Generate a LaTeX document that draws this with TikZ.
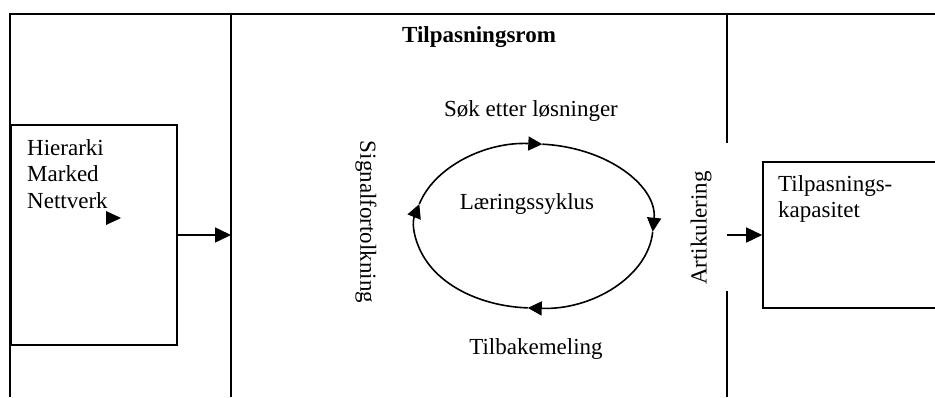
\documentclass[tikz,border=0pt]{standalone}
\usepackage{fontspec}
\setmainfont{Liberation Serif}
\usetikzlibrary{arrows.meta}

\tikzset{
  boks/.style = {draw, line width=1.6pt, inner sep=0pt},
  pil/.style = {line width=1.6pt, -{Triangle[length=16pt, width=15pt]}},
  sykluspil/.style = {line width=1.6pt, -{Triangle[length=14pt, width=14pt]}}
}

\begin{document}
\begin{tikzpicture}[x=1pt, y=1pt, font=\fontsize{23}{26.5}\selectfont]
            \useasboundingbox (0,0) rectangle (935,397);

            % ramme
            \draw [line width=1.6pt]
            (10,0) -- (10,383) -- (940,383);
            \draw [line width=1.6pt] (231,383) -- (231,0);
            \draw [line width=1.6pt] (727,383) -- (727,254);
            \draw [line width=1.6pt] (727,106) -- (727,0);

            % bokser
            \node [boks, minimum width=166pt, minimum height=220pt] (marked) at (94,162) {};
            \node [boks, minimum width=177pt, minimum height=146pt] (kapasitet) at (851.5,162) {};
            \coordinate (rominn) at (231,162);
            \coordinate (romut) at (727,162);
            \draw [pil] (marked.east) -- (rominn);
            \draw [pil] (romut) -- (kapasitet.west);

            \node [anchor=base west, align=left, inner sep=0pt] (styring) at (27,189)
            {Hierarki\\Marked\\Nettverk};
            \fill (106,186) -- (121,179) -- (106,172) -- cycle;
            \node [anchor=base west, align=left, inner sep=0pt] (kaptekst) at (778,179)
            {Tilpasnings-\\kapasitet};

            % syklus
            \coordinate (syklus) at (534,171);
            \draw [sykluspil] ([shift={(164.5:119pt and 82pt)}]syklus)
            arc [start angle=164.5, end angle=86, x radius=119pt, y radius=82pt];
            \draw [sykluspil] ([shift={(86:119pt and 82pt)}]syklus)
            arc [start angle=86, end angle=-4, x radius=119pt, y radius=82pt];
            \draw [sykluspil] ([shift={(-4:119pt and 82pt)}]syklus)
            arc [start angle=-4, end angle=-93, x radius=119pt, y radius=82pt];
            \draw [sykluspil] ([shift={(-93:119pt and 82pt)}]syklus)
            arc [start angle=-93, end angle=-195.5, x radius=119pt, y radius=82pt];

            % tekster
            \node [anchor=base] (tittel) at (479,354) {\bfseries Tilpasningsrom};
            \node [anchor=base] (sok) at (531,280) {Søk etter løsninger};
            \node [anchor=base] (laering) at (527,188) {Læringssyklus};
            \node [anchor=base] (tilbake) at (536,43) {Tilbakemeling};
            \node [rotate=-90] (signal) at (366,175) {Signalfortolkning};
            \node [rotate=90] (artik) at (701,169) {Artikulering};
        \end{tikzpicture}
\end{document}
